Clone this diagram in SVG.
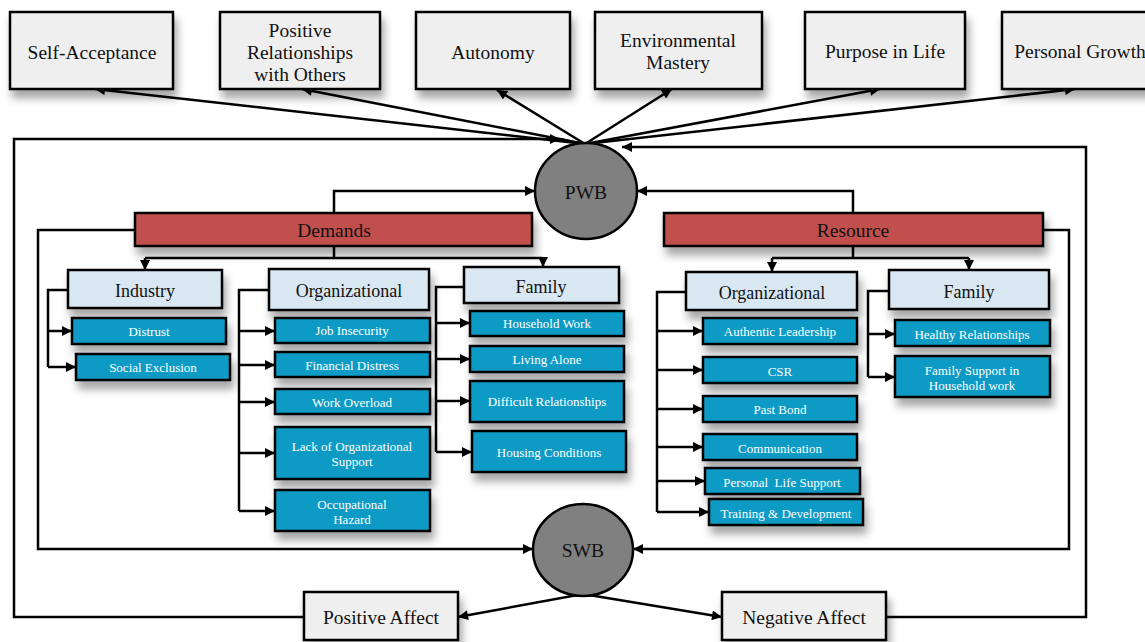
<svg xmlns="http://www.w3.org/2000/svg" width="1145" height="642" viewBox="0 0 1145 642">
<defs>
<filter id="sh" x="-10%" y="-20%" width="130%" height="190%">
<feDropShadow dx="3" dy="8" stdDeviation="4" flood-color="#000" flood-opacity="0.35"/>
</filter>
<marker id="ah" viewBox="0 0 10 10" refX="10" refY="5" markerWidth="11" markerHeight="10" markerUnits="userSpaceOnUse" orient="auto">
<path d="M0,0 L10,5 L0,10 z" fill="#000"/>
</marker>
</defs>
<style>
.top{fill:#efefef;stroke:#000;stroke-width:2.5;filter:url(#sh)}
.red{fill:#c0504d;stroke:#000;stroke-width:2.5;filter:url(#sh)}
.cat{fill:#d8e7f2;stroke:#000;stroke-width:2.5;filter:url(#sh)}
.blue{fill:#0a9bc6;stroke:#000;stroke-width:2.5;filter:url(#sh)}
.ell{fill:#808080;stroke:#000;stroke-width:2.5}
.t{font-family:"Liberation Serif",serif;font-size:18px;fill:#111;text-anchor:middle;dominant-baseline:central}
.tl{font-size:19.5px}
.tb{font-family:"Liberation Serif",serif;font-size:13px;fill:#fff;text-anchor:middle;dominant-baseline:central}
.c{fill:none;stroke:#000;stroke-width:2.5;marker-end:url(#ah)}
.cn{fill:none;stroke:#000;stroke-width:2.5}
</style>
<rect width="1145" height="642" fill="#fff"/>

<g id="connectors">
<line class="c" x1="585" y1="144" x2="95" y2="89"/>
<line class="c" x1="585" y1="144" x2="302" y2="89"/>
<line class="c" x1="585" y1="144" x2="497" y2="90"/>
<line class="c" x1="585" y1="144" x2="672" y2="89"/>
<line class="c" x1="585" y1="144" x2="880" y2="89"/>
<line class="c" x1="585" y1="144" x2="1075" y2="89"/>
<path class="c" d="M304,617 H14 V139 H560"/>
<path class="cn" d="M560,139 L582,144"/>
<path class="c" d="M886,617 H1086 V147 H622"/>
<path class="c" d="M334,213 V191 H535"/>
<path class="c" d="M853,213 V191 H637"/>
<path class="c" d="M135,230 H38 V549 H533"/>
<path class="c" d="M1043,230 H1069 V549 H633"/>
<path class="c" d="M583,594 L458,617"/>
<path class="c" d="M583,594 L722,617"/>
<path class="cn" d="M334,246 V258 H145 M334,258 H543"/>
<line class="c" x1="145" y1="258" x2="145" y2="270"/>
<line class="c" x1="543" y1="258" x2="543" y2="267"/>
<path class="cn" d="M853,246 V258 H772 M853,258 H969"/>
<line class="c" x1="772" y1="258" x2="772" y2="272"/>
<line class="c" x1="969" y1="258" x2="969" y2="270"/>
<path class="cn" d="M68,290 H48 V367"/>
<line class="c" x1="48" y1="331" x2="72" y2="331"/>
<line class="c" x1="48" y1="367" x2="76" y2="367"/>
<path class="cn" d="M269,290 H239 V511"/>
<line class="c" x1="239" y1="331" x2="275" y2="331"/>
<line class="c" x1="239" y1="365" x2="275" y2="365"/>
<line class="c" x1="239" y1="402" x2="275" y2="402"/>
<line class="c" x1="239" y1="453" x2="275" y2="453"/>
<line class="c" x1="239" y1="511" x2="275" y2="511"/>
<path class="cn" d="M464,287 H436 V452"/>
<line class="c" x1="436" y1="323" x2="470" y2="323"/>
<line class="c" x1="436" y1="359" x2="470" y2="359"/>
<line class="c" x1="436" y1="401" x2="470" y2="401"/>
<line class="c" x1="436" y1="452" x2="472" y2="452"/>
<path class="cn" d="M686,292 H657 V512"/>
<line class="c" x1="657" y1="331" x2="703" y2="331"/>
<line class="c" x1="657" y1="370" x2="703" y2="370"/>
<line class="c" x1="657" y1="409" x2="703" y2="409"/>
<line class="c" x1="657" y1="447" x2="703" y2="447"/>
<line class="c" x1="657" y1="481" x2="705" y2="481"/>
<line class="c" x1="657" y1="512" x2="709" y2="512"/>
<path class="cn" d="M889,291 H868 V377"/>
<line class="c" x1="868" y1="334" x2="895" y2="334"/>
<line class="c" x1="868" y1="377" x2="895" y2="377"/>
</g>

<g id="self-acceptance"><rect class="top" x="10" y="12" width="163" height="77"/><text class="t tl" x="92" y="52">Self-Acceptance</text></g>
<g id="positive-relationships"><rect class="top" x="220" y="12" width="160" height="77"/><text class="t tl" x="300" y="30">Positive</text><text class="t tl" x="300" y="52">Relationships</text><text class="t tl" x="300" y="74">with Others</text></g>
<g id="autonomy"><rect class="top" x="416" y="12" width="154" height="77"/><text class="t tl" x="493" y="52">Autonomy</text></g>
<g id="environmental-mastery"><rect class="top" x="595" y="12" width="167" height="77"/><text class="t tl" x="678" y="40">Environmental</text><text class="t tl" x="678" y="62">Mastery</text></g>
<g id="purpose-in-life"><rect class="top" x="805" y="12" width="160" height="77"/><text class="t tl" x="885" y="51">Purpose in Life</text></g>
<g id="personal-growth"><rect class="top" x="1002" y="12" width="160" height="77"/><text class="t tl" x="1080" y="51">Personal Growth</text></g>

<g id="pwb"><ellipse class="ell" cx="586" cy="191" rx="51" ry="48"/><text class="t tl" x="586" y="192">PWB</text></g>
<g id="swb"><ellipse class="ell" cx="583" cy="550" rx="50" ry="46"/><text class="t tl" x="583" y="550">SWB</text></g>

<g id="demands"><rect class="red" x="135" y="213" width="397" height="33"/><text class="t tl" x="334" y="230">Demands</text></g>
<g id="resource"><rect class="red" x="664" y="213" width="379" height="33"/><text class="t tl" x="853" y="230">Resource</text></g>

<g id="industry"><rect class="cat" x="68" y="270" width="154" height="38"/><text class="t" x="145" y="291">Industry</text></g>
<g id="d-organizational"><rect class="cat" x="269" y="269" width="160" height="41"/><text class="t" x="349" y="291">Organizational</text></g>
<g id="d-family"><rect class="cat" x="464" y="267" width="155" height="36"/><text class="t" x="541" y="287">Family</text></g>
<g id="r-organizational"><rect class="cat" x="686" y="272" width="171" height="38"/><text class="t" x="772" y="293">Organizational</text></g>
<g id="r-family"><rect class="cat" x="889" y="270" width="160" height="39"/><text class="t" x="969" y="292">Family</text></g>

<g id="distrust"><rect class="blue" x="72" y="318" width="154" height="26"/><text class="tb" x="149" y="331">Distrust</text></g>
<g id="social-exclusion"><rect class="blue" x="76" y="354" width="154" height="26"/><text class="tb" x="153" y="367">Social Exclusion</text></g>

<g id="job-insecurity"><rect class="blue" x="275" y="318" width="155" height="25"/><text class="tb" x="352" y="330">Job Insecurity</text></g>
<g id="financial-distress"><rect class="blue" x="275" y="352" width="155" height="25"/><text class="tb" x="352" y="365">Financial Distress</text></g>
<g id="work-overload"><rect class="blue" x="275" y="389" width="155" height="25"/><text class="tb" x="352" y="402">Work Overload</text></g>
<g id="lack-org-support"><rect class="blue" x="275" y="427" width="155" height="52"/><text class="tb" x="352" y="446">Lack of Organizational</text><text class="tb" x="352" y="461">Support</text></g>
<g id="occupational-hazard"><rect class="blue" x="275" y="490" width="155" height="41"/><text class="tb" x="352" y="504">Occupational</text><text class="tb" x="352" y="519">Hazard</text></g>

<g id="household-work"><rect class="blue" x="470" y="311" width="154" height="25"/><text class="tb" x="547" y="323">Household Work</text></g>
<g id="living-alone"><rect class="blue" x="470" y="346" width="154" height="26"/><text class="tb" x="547" y="359">Living Alone</text></g>
<g id="difficult-relationships"><rect class="blue" x="470" y="381" width="154" height="41"/><text class="tb" x="547" y="401">Difficult Relationships</text></g>
<g id="housing-conditions"><rect class="blue" x="472" y="431" width="154" height="41"/><text class="tb" x="549" y="452">Housing Conditions</text></g>

<g id="authentic-leadership"><rect class="blue" x="703" y="318" width="154" height="26"/><text class="tb" x="780" y="331">Authentic Leadership</text></g>
<g id="csr"><rect class="blue" x="703" y="357" width="154" height="26"/><text class="tb" x="780" y="371">CSR</text></g>
<g id="past-bond"><rect class="blue" x="703" y="396" width="154" height="26"/><text class="tb" x="780" y="409">Past Bond</text></g>
<g id="communication"><rect class="blue" x="703" y="434" width="154" height="26"/><text class="tb" x="780" y="448">Communication</text></g>
<g id="personal-life-support"><rect class="blue" x="705" y="468" width="155" height="26"/><text class="tb" x="782" y="482" xml:space="preserve">Personal  Life Support</text></g>
<g id="training-development"><rect class="blue" x="709" y="499" width="154" height="26"/><text class="tb" x="786" y="513">Training &amp; Development</text></g>

<g id="healthy-relationships"><rect class="blue" x="895" y="320" width="155" height="26"/><text class="tb" x="972" y="334">Healthy Relationships</text></g>
<g id="family-support"><rect class="blue" x="895" y="356" width="155" height="41"/><text class="tb" x="972" y="370">Family Support in</text><text class="tb" x="972" y="385">Household work</text></g>

<g id="positive-affect"><rect class="top" x="304" y="592" width="154" height="48"/><text class="t tl" x="381" y="617">Positive Affect</text></g>
<g id="negative-affect"><rect class="top" x="722" y="592" width="164" height="48"/><text class="t tl" x="804" y="617">Negative Affect</text></g>
</svg>
